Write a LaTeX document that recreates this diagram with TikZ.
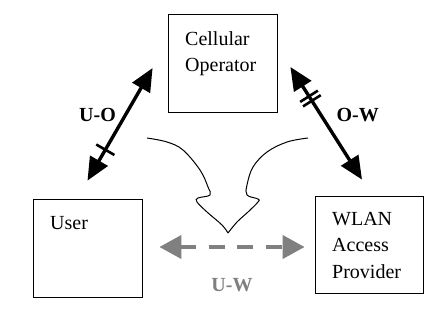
\documentclass[tikz,border=0pt]{standalone}
\usepackage{fontspec}
\setmainfont{Liberation Serif}
\usetikzlibrary{positioning}
\usetikzlibrary{arrows.meta}
\colorlet{link colour}{black}
\colorlet{weak colour}{black!50}
\tikzset{
    % Heavy filled heads for the trust links
    >={Triangle[length=23pt,width=20pt]},
%
    % Boxes for the three parties
    box/.style={draw, line width=0.8pt, minimum width=109pt, minimum height=98pt},
    box text/.style={anchor=base west, inner sep=0pt, align=left,
        font=\fontsize{20}{26.5}\selectfont},
    % Next the links
    link/.style={color=link colour, line width=3.4pt, <->},
    weak link/.style={color=weak colour, line width=4pt, <->,
        >={Triangle[length=22pt,width=23pt]}, dash pattern=on 16pt off 12.5pt},
    link label/.style={inner sep=0pt, font=\fontsize{20}{24}\selectfont\bfseries},
    tick/.style={sloped, fill=link colour, inner sep=0pt,
        minimum width=2.6pt, minimum height=21pt},
}

\begin{document}
\begin{tikzpicture}[
    x=1pt, y=1pt,
    funnel/.style={line width=1pt},
]
\useasboundingbox (0,0) rectangle (438,324);

\path
    node [box] (oper) at (222.5,261) {}
    node [box] (user) at (87.5,76) {}
    node [box, minimum width=108pt, minimum height=97pt] (wlan) at (369,79.5) {};

% base anchor sits on the last line
\node [box text] (oper text) at (185,252) {Cellular\\Operator};
\node [box text] (user text) at (50,95) {User};
\node [box text] (wlan text) at (332,46) {WLAN\\Access\\Provider};

\draw [link] ([yshift=18pt]user.north) -- ([shift={(-15pt,-5pt)}]oper.west)
    node [pos=0.274, tick] (uo tick) {}
    node [pos=0.584, left=8pt, link label] (uo label) {U-O};
\draw [link] ([shift={(13pt,-4pt)}]oper.east) -- ([shift={(-7pt,16pt)}]wlan.north)
    node [pos=0.26, tick] (ow tick a) {}
    node [pos=0.30, tick] (ow tick b) {}
    node [pos=0.425, right=14pt, link label] (ow label) {O-W};
\draw [weak link] ([shift={(17pt,1pt)}]user.east) -- ([shift={(-10pt,-2.5pt)}]wlan.west)
    node [midway, below=29pt, link label, text=weak colour] (uw label) {U-W};

% the two halves of the wavy funnel
\draw [funnel] plot [smooth, tension=0.6] coordinates {
    (147,186) (167,182) (183,174) (200,154) (208,137) (210,129)
    (198,126) (197,122) (207,112) (222,99) (228,91)};
\draw [funnel] plot [smooth, tension=0.6] coordinates {
    (228,91) (237,102) (248,112) (258,122) (258,125) (247,129)
    (247,139) (253,157) (267,172) (287,182) (308,186)};

\end{tikzpicture}
\end{document}
